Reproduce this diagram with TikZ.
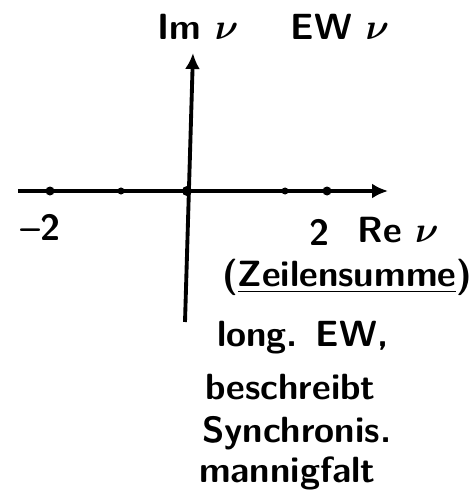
\documentclass[tikz,border=0pt]{standalone}
\usepackage{amsmath}
\usetikzlibrary{arrows.meta}
\tikzset{
  lbl/.style={font=\sffamily\bfseries\huge, inner sep=1pt},
  txt/.style={lbl, anchor=west},
  axis/.style={line width=2.2pt, -{Latex[length=3.2mm,width=3mm]}}
}
\begin{document}
\begin{tikzpicture}[scale=1.0]
  \useasboundingbox (-3.74,-6.2) rectangle (5.74,3.82);
  \draw[axis] (-3.38,0) -- (4.02,0);
  \draw[axis] (-0.04,-2.62) -- (0.12,2.76);
  \foreach \p/\r in {-2.74/0.09, -1.32/0.07, 0/0.1, 1.96/0.07, 2.8/0.09}
    \fill (\p,0) circle (\r);
  \node[lbl] (im) at (0.22,3.28) {Im $\boldsymbol{\nu}$};
  \node[lbl] (ew) at (3.06,3.28) {EW $\boldsymbol{\nu}$};
  \node[lbl] (m2) at (-2.92,-0.72) {--2};
  \node[lbl] (p2) at (2.66,-0.82) {2};
  \node[lbl] (re) at (4.22,-0.78) {Re $\boldsymbol{\nu}$};
  \node[lbl] (zs) at (3.2,-1.72) {(\underline{Zeilensumme})};
  \node[txt] (lg) at (0.56,-2.94) {long. EW,};
  \node[txt] (be) at (0.32,-3.92) {beschreibt};
  \node[txt] (sy) at (0.26,-4.84) {Synchronis.};
  \node[txt] (ma) at (0.2,-5.64) {mannigfalt};
\end{tikzpicture}
\end{document}
